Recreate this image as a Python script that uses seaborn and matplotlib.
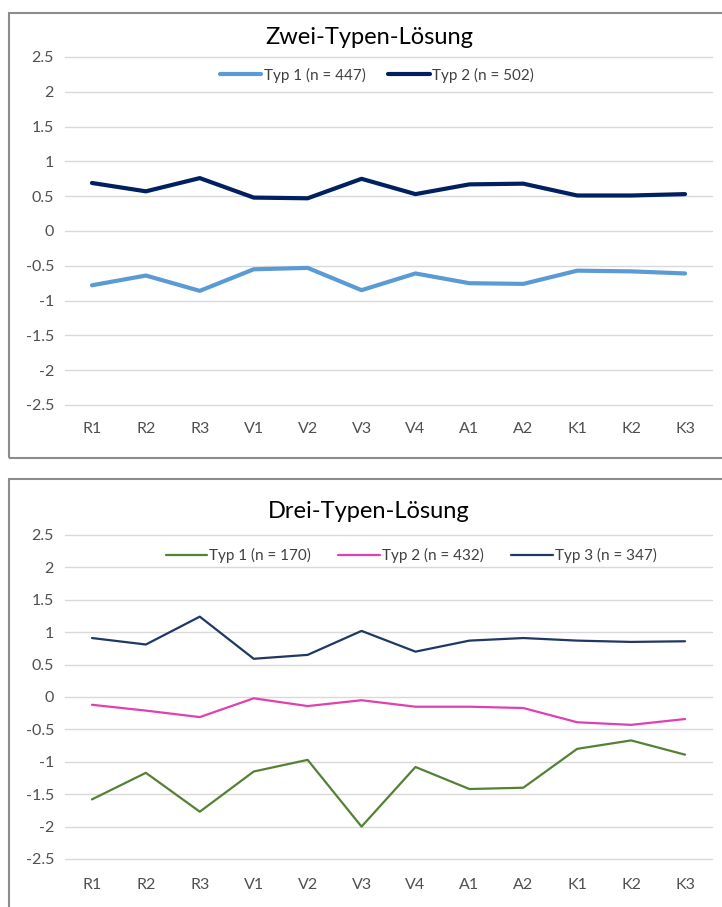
import pandas as pd
import matplotlib
matplotlib.use("Agg")
import matplotlib.pyplot as plt
from matplotlib.patches import Rectangle
import seaborn as sns

# --- data ---
items = ["R1", "R2", "R3", "V1", "V2", "V3", "V4", "A1", "A2", "K1", "K2", "K3"]
y_ticks = [-2.5, -2, -1.5, -1, -0.5, 0, 0.5, 1, 1.5, 2, 2.5]
y_tick_labels = ["-2.5", "-2", "-1.5", "-1", "-0.5", "0", "0.5", "1", "1.5", "2", "2.5"]

# Zwei-Typen-Lösung
two_typ1 = [-0.78, -0.64, -0.86, -0.55, -0.53, -0.85, -0.61, -0.75, -0.76, -0.57, -0.58, -0.61]
two_typ2 = [0.69, 0.57, 0.76, 0.48, 0.47, 0.75, 0.53, 0.67, 0.68, 0.51, 0.51, 0.53]
two_names = ["Typ 1 (n = 447)", "Typ 2 (n = 502)"]
two_colors = ["#5B9BD5", "#002060"]

# Drei-Typen-Lösung
three_typ1 = [-1.58, -1.17, -1.77, -1.15, -0.97, -2.00, -1.08, -1.42, -1.40, -0.80, -0.67, -0.89]
three_typ2 = [-0.12, -0.21, -0.31, -0.02, -0.14, -0.05, -0.15, -0.15, -0.17, -0.39, -0.43, -0.34]
three_typ3 = [0.91, 0.81, 1.24, 0.59, 0.65, 1.02, 0.70, 0.87, 0.91, 0.87, 0.85, 0.86]
three_names = ["Typ 1 (n = 170)", "Typ 2 (n = 432)", "Typ 3 (n = 347)"]
three_colors = ["#548235", "#E040B0", "#1F3864"]

sns.set_style("white")
plt.rcParams["font.family"] = ["Lato", "DejaVu Sans"]

W, H = 722, 907
fig = plt.figure(figsize=(W / 100, H / 100), dpi=100)


def long_df(series, names):
    rows = []
    for vals, name in zip(series, names):
        for it, v in zip(items, vals):
            rows.append({"Item": it, "Wert": v, "Typ": name})
    return pd.DataFrame(rows)


def px_box(x0, y_top, x1, y_bot):
    return [x0 / W, 1 - y_bot / H, (x1 - x0) / W, (y_bot - y_top) / H]


def draw_panel(rect, df, names, colors, lw, title, title_y, leg_x, leg_y, xpad, colsp):
    ax = fig.add_axes(rect)
    sns.lineplot(data=df, x="Item", y="Wert", hue="Typ", hue_order=names,
                 palette=colors, linewidth=lw, sort=False, ax=ax)
    ax.set_xlim(-0.5, len(items) - 0.5)
    ax.set_ylim(-2.5, 2.5)
    ax.set_yticks(y_ticks)
    ax.set_yticklabels(y_tick_labels)
    ax.set_xlabel("")
    ax.set_ylabel("")
    for s in ax.spines.values():
        s.set_visible(False)
    ax.grid(axis="y", color="#D9D9D9", linewidth=1.0)
    for g in ax.get_ygridlines():
        g.set_clip_on(False)
    ax.set_axisbelow(True)
    ax.tick_params(axis="both", length=0, labelsize=11.5, labelcolor="#505050")
    ax.tick_params(axis="x", pad=xpad)
    ax.tick_params(axis="y", pad=8)
    for ln in ax.get_lines():
        ln.set_clip_on(False)
        ln.set_solid_joinstyle("round")
    leg = ax.legend(loc="center", bbox_to_anchor=(leg_x, leg_y), ncol=len(names),
                    frameon=False, fontsize=11, handlelength=2.7,
                    handletextpad=0.15, columnspacing=colsp)
    for t in leg.get_texts():
        t.set_color("#404040")
    for h in leg.get_lines():
        h.set_linewidth(lw)
    fig.text(0.511, title_y, title, ha="center", va="center", fontsize=17, color="#000000")
    return ax


draw_panel(px_box(65, 57, 712, 405), long_df([two_typ1, two_typ2], two_names),
           two_names, two_colors, 3.0, "Zwei-Typen-Lösung", 1 - 38 / H, 0.482, 0.948, 12, 1.5)
draw_panel(px_box(65, 535, 712, 859), long_df([three_typ1, three_typ2, three_typ3], three_names),
           three_names, three_colors, 1.6, "Drei-Typen-Lösung", 1 - 511 / H, 0.535, 0.936, 14, 1.8)

# panel frames
for (y0, y1) in [(13, 458), (479, 912)]:
    fig.patches.append(Rectangle((9 / W, 1 - y1 / H), (730 - 9) / W, (y1 - y0) / H,
                                 transform=fig.transFigure, fill=False,
                                 edgecolor="#8C8C8C", linewidth=1.5, clip_on=False))

fig.savefig("out.png", dpi=100)
